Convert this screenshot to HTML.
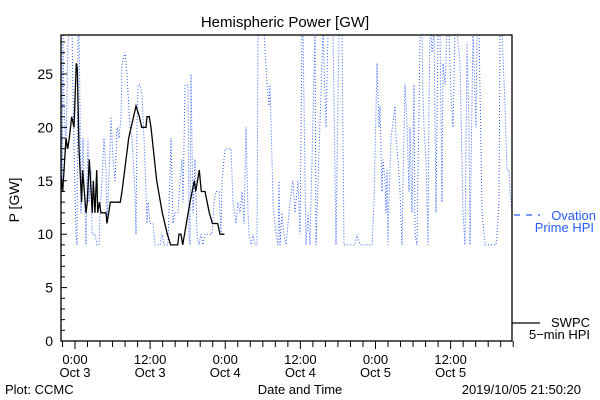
<!DOCTYPE html>
<html><head><meta charset="utf-8"><style>
body{margin:0;background:#fff}
svg{display:block;font-family:"Liberation Sans",sans-serif}
</style></head><body>
<svg id="chart" width="600" height="400" viewBox="0 0 600 400">
<rect width="600" height="400" fill="#fff"/>
<text x="285" y="27" font-size="15" text-anchor="middle">Hemispheric Power [GW]</text>
<defs><clipPath id="pc"><rect x="61" y="35" width="451" height="306"/></clipPath></defs>
<g id="grid"></g>
<g id="series" clip-path="url(#pc)"></g>
<rect x="61" y="35" width="451" height="306" fill="none" stroke="#000" stroke-width="1.3"/>
<g id="axes"></g>
<text transform="translate(19,200) rotate(-90)" font-size="14" text-anchor="middle">P [GW]</text>
<text x="300" y="394" font-size="13" text-anchor="middle">Date and Time</text>
<text x="5" y="394" font-size="13">Plot: CCMC</text>
<text x="581" y="394" font-size="13" text-anchor="end">2019/10/05 21:50:20</text>
<g>
<line x1="514" y1="215" x2="540" y2="215" stroke="#2a5cff" stroke-width="1.2" stroke-dasharray="6,6"/>
<text x="596" y="220" font-size="13" fill="#2a5cff" text-anchor="end">Ovation</text>
<text x="594" y="232" font-size="13" fill="#2a5cff" text-anchor="end">Prime HPI</text>
</g>
<g>
<line x1="512" y1="323" x2="540" y2="323" stroke="#000" stroke-width="1.2"/>
<text x="590" y="327" font-size="13" text-anchor="end">SWPC</text>
<text x="590" y="339" font-size="13" text-anchor="end">5−min HPI</text>
</g>
</svg>
<script>
// hours since Oct 3 00:00
const swpcHours=[-2.24,-1.97,-1.44,-1.17,-0.91,-0.53,-0.16,0.21,0.37,0.64,1.06,1.22,1.76,1.97,2.29,2.77,2.93,3.19,3.46,3.62,3.89,4.15,4.95,5.11,5.38,5.64,7.24,7.51,8.57,9.74,10.28,10.65,11.34,11.50,11.87,12.14,13.05,13.95,14.75,15.28,16.40,16.61,16.93,17.20,18.37,19.06,19.28,19.86,20.18,20.77,21.46,21.94,22.79,23.16,23.86];
const swpcValues=[15.5,14,19,18,19,21,20,26,25.5,18,13,16,12,13,17,12,15,12,16,12,13,12,12,11,12,13,13,14,19,22,21,20,20,21,21,20,15,12,10,9,9,10,10,9,13,15,14,16,14,14,12,11,11,10,10];
const ovHours=[-2.24,-2.08,-1.92,-1.76,-1.44,-1.12,-0.80,-0.48,-0.16,0.16,0.32,0.48,0.64,0.80,0.96,1.28,1.44,1.60,1.76,1.92,2.08,2.24,2.56,2.72,3.19,3.51,3.83,3.99,4.31,4.63,4.95,5.11,5.27,5.59,5.75,6.07,6.39,6.71,7.03,7.35,7.51,7.99,8.31,8.79,9.11,9.58,9.74,9.90,10.06,10.38,10.70,11.02,11.34,11.50,11.66,11.98,12.46,12.78,13.58,13.90,14.22,14.86,15.34,15.65,15.97,16.45,16.77,17.09,17.25,17.57,18.05,18.21,18.37,18.53,18.85,19.17,19.49,19.81,20.13,20.45,20.77,21.09,21.41,21.88,22.20,22.52,23.00,23.32,23.48,23.96,24.92,25.24,25.72,26.04,26.36,26.68,27.00,27.32,27.64,27.80,28.12,28.43,28.75,29.07,29.23,29.39,30.19,30.67,30.99,31.15,31.47,31.63,32.11,32.43,32.59,32.75,33.07,33.39,33.71,34.35,34.82,35.14,35.62,35.94,36.26,36.42,36.90,37.22,37.54,38.34,38.50,39.62,40.10,40.42,41.21,41.69,42.17,42.65,42.97,44.73,45.05,45.53,46.81,47.44,47.76,48.24,48.56,48.72,48.88,49.04,49.20,49.52,49.68,49.84,50.00,50.16,50.48,51.12,51.28,51.60,51.92,52.24,52.40,52.72,53.04,53.35,53.51,53.83,54.15,54.31,54.63,54.79,54.95,55.11,55.43,55.59,55.75,56.07,56.39,56.55,56.71,56.87,57.03,57.35,57.67,57.99,58.31,58.63,58.79,59.11,59.42,59.74,60.06,60.38,60.70,61.02,61.50,61.98,62.30,62.62,62.94,63.10,63.58,64.06,64.22,64.54,65.02,65.34,65.50,67.25,67.41,67.73,67.89,68.21,68.69,69.01,69.33,69.49,69.81];
const ovValues=[29,15,29,22,18,28,29,29,18,10,9,29,29,22,12,19,15,12,9,15,19,13,16,10,10,9,9,12,15,19,16,11,13,18,21,17,15,20,19,21,26,27,25,20,19,14,10,20,24,24,23,19,14,11,13,11,11,9,9,10,9,9,19,11,12,12,15,17,13,24,24,10,9,25,12,17,10,9,10,9,10,10,10,10,13,14,14,10,15,18,18,13,11,13,12,14,11,20,12,10,9,10,9,9,29,29,29,24,22,24,17,13,10,9,15,9,12,10,9,13,15,12,15,10,29,29,9,12,9,29,9,29,20,29,29,9,29,29,9,9,10,9,9,9,13,26,20,22,18,14,17,15,12,16,9,13,19,22,19,17,14,9,15,24,20,14,20,12,24,10,9,16,21,29,29,23,20,17,9,22,29,29,27,29,12,29,29,13,26,24,29,29,23,20,29,29,26,12,9,28,20,9,29,20,29,29,12,10,9,9,10,13,29,29,22,16,16,14,12];
const yTicks=[0,5,10,15,20,25];
const xTickHours=[0,12,24,36,48,60];
const xTickTimes=["0:00","12:00","0:00","12:00","0:00","12:00"];
const xTickDates=["Oct 3","Oct 3","Oct 4","Oct 4","Oct 5","Oct 5"];

const NS="http://www.w3.org/2000/svg";
const X=h=>75+h*6.2604;
const Y=v=>341-v*10.68;
function mk(tag,attrs,parent){const e=document.createElementNS(NS,tag);for(const k in attrs)e.setAttribute(k,attrs[k]);parent.appendChild(e);return e;}
const axes=document.getElementById('axes'),series=document.getElementById('series');

for(let v=0;v<=28;v++){
  const t=mk('line',{x1:61,x2:v%5===0?67:65,y1:Y(v),y2:Y(v),stroke:'#000','stroke-width':1},axes);
  
  
}
yTicks.forEach(v=>{
  const t=mk('text',{x:53,y:Y(v)+5,'font-size':14,'text-anchor':'end'},axes);
  t.textContent=v;
  
  
});
for(let h=-2;h<=70;h+=2){
  const major=h%12===0;
  const t=mk('line',{x1:X(h),x2:X(h),y1:341,y2:major?349:347,stroke:'#000','stroke-width':1},axes);
  
  
}
xTickHours.forEach((h,i)=>{
  const a=mk('text',{x:X(h),y:364,'font-size':13,'text-anchor':'middle'},axes);
  a.textContent=xTickTimes[i];
  
  
  const b=mk('text',{x:X(h),y:377,'font-size':13,'text-anchor':'middle'},axes);
  b.textContent=xTickDates[i];
  
  
});

const ovPts=ovHours.map((h,i)=>X(h).toFixed(1)+','+Y(ovValues[i]).toFixed(1)).join(' ');
const ov=mk('polyline',{points:ovPts,fill:'none',stroke:'#2a5cff','stroke-width':1,'stroke-dasharray':'1,2'},series);



const sw=[];
swpcHours.forEach((h,i)=>{sw.push(X(h).toFixed(1)+','+Y(swpcValues[i]).toFixed(1));});
const sl=mk('polyline',{points:sw.join(' '),fill:'none',stroke:'#000','stroke-width':1.3},series);


</script>
</body></html>
